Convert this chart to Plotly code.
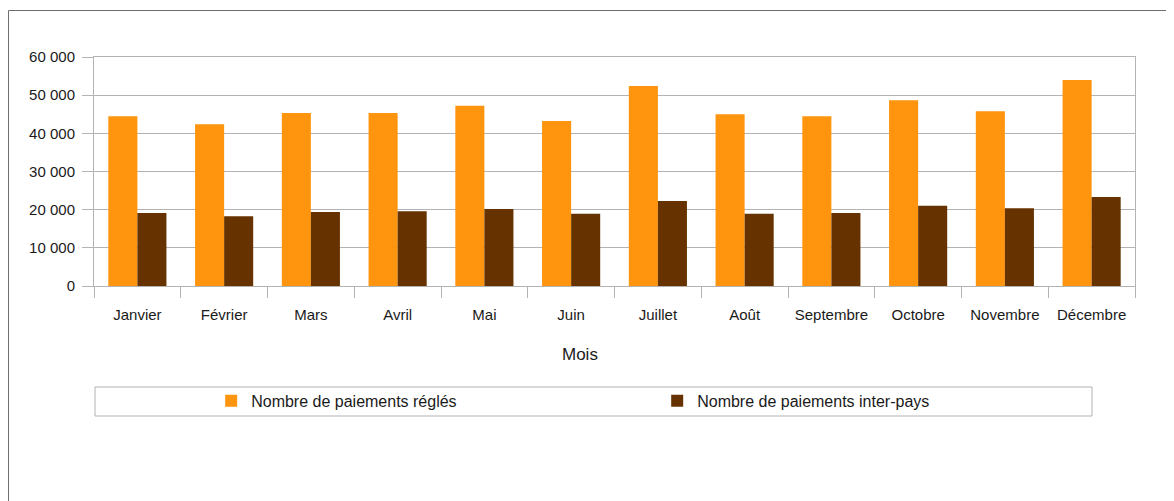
import plotly.graph_objects as go

# monthly data
mois = ['Janvier', 'Février', 'Mars', 'Avril', 'Mai', 'Juin', 'Juillet',
        'Août', 'Septembre', 'Octobre', 'Novembre', 'Décembre']
regles = [44500, 42400, 45300, 45300, 47200, 43200, 52400,
          45000, 44500, 48700, 45800, 54000]
inter_pays = [19100, 18300, 19400, 19600, 20200, 18900, 22300,
              18900, 19100, 21000, 20400, 23300]

grid = '#b3b3b3'
font = 'Liberation Sans, Arial, sans-serif'

fig = go.Figure()
fig.add_trace(go.Bar(x=mois, y=regles, name='Nombre de paiements réglés',
                     marker=dict(color='#ff950e', line=dict(width=0))))
fig.add_trace(go.Bar(x=mois, y=inter_pays, name='Nombre de paiements inter-pays',
                     marker=dict(color='#663300', line=dict(width=0))))

# page body has an 8px margin, so everything is placed 8px up/left
fig.update_layout(
    width=1174, height=501,
    margin=dict(l=86, r=47, t=49, b=223),
    paper_bgcolor='white', plot_bgcolor='white',
    font=dict(family=font, size=15, color='#1a1a1a'),
    separators=', ',
    barmode='group', bargap=0.33, bargroupgap=0,
    showlegend=True,
    legend=dict(orientation='h', x=0.541, xanchor='center', y=-0.502, yanchor='middle',
                font=dict(size=16), entrywidth=401, bgcolor='rgba(0,0,0,0)'),
)

fig.update_xaxes(showgrid=False, showline=True, linecolor=grid, mirror=True,
                 ticks='outside', tickson='boundaries', ticklen=11, tickcolor=grid,
                 ticklabelstandoff=15)
fig.update_yaxes(range=[0, 60000], dtick=10000, tickformat=',d',
                 showgrid=True, gridcolor=grid, showline=True, linecolor=grid, mirror=True,
                 ticks='outside', ticklen=11, tickcolor=grid, zeroline=False,
                 ticklabelstandoff=4)

# x axis title
fig.add_annotation(text='Mois', xref='paper', yref='paper', x=(580 - 94) / 1041, y=(286 - 354) / 229,
                   showarrow=False, font=dict(size=17), xanchor='center', yanchor='middle')

# legend box and outer frame
fig.add_shape(type='rect', xref='paper', yref='paper',
              x0=(95 - 94) / 1041, x1=(1092 - 94) / 1041,
              y0=(286 - 387) / 229, y1=(286 - 416) / 229,
              line=dict(color=grid, width=1))
fig.add_shape(type='line', xref='paper', yref='paper',
              x0=(8.5 - 94) / 1041, x1=(1180 - 94) / 1041,
              y0=(286 - 10.5) / 229, y1=(286 - 10.5) / 229,
              line=dict(color='#6e6e6e', width=1))
fig.add_shape(type='line', xref='paper', yref='paper',
              x0=(8.5 - 94) / 1041, x1=(8.5 - 94) / 1041,
              y0=(286 - 10.5) / 229, y1=(286 - 510) / 229,
              line=dict(color='#6e6e6e', width=1))

fig.write_html('out.html')
